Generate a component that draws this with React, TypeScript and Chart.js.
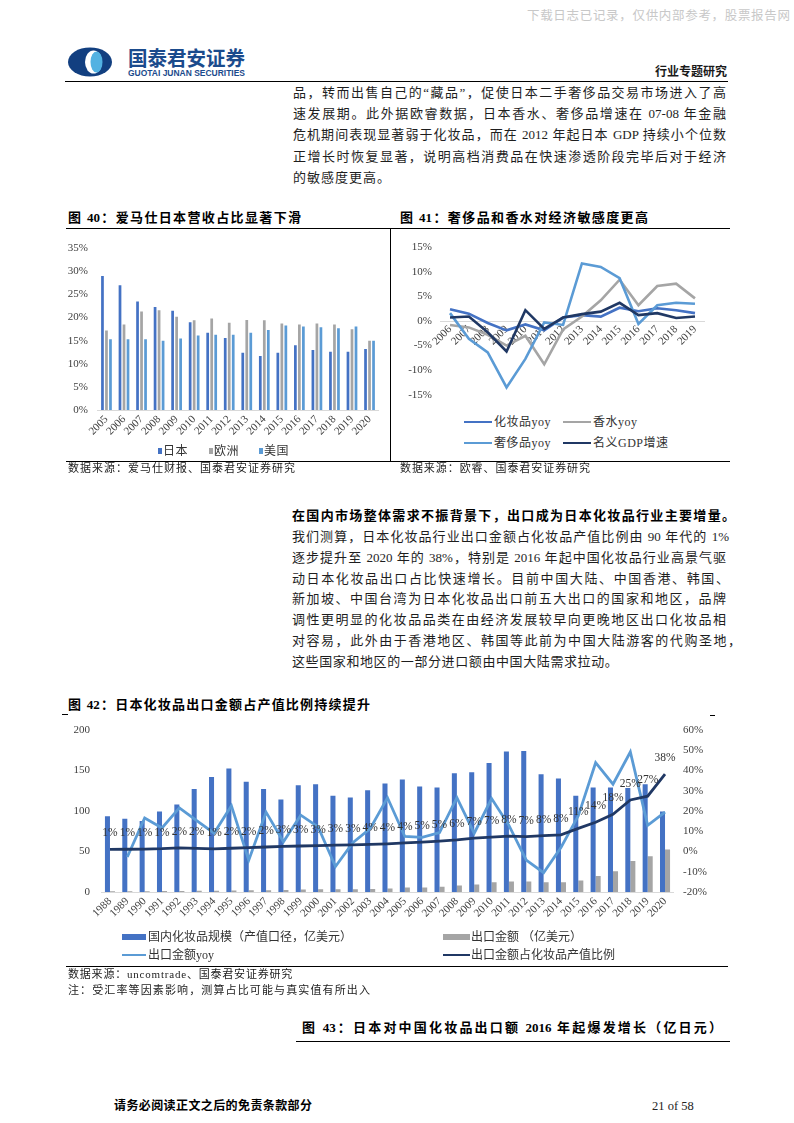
import React, { useEffect, useRef } from 'react';
import { Chart, registerables } from 'chart.js';

Chart.register(...registerables);

const SERIF = "'Liberation Serif', 'Noto Sans CJK SC', serif";
const TEXT = "'Liberation Serif', 'Noto Sans CJK SC', sans-serif";
const BLUE = '#4472C4';
const GRAY = '#A5A5A5';
const LIGHT = '#5B9BD5';
const NAVY = '#203864';
const TICK = '#404040';

// ---------- Figure 40: Hermès revenue share by region ----------
const hermesYears = ['2005', '2006', '2007', '2008', '2009', '2010', '2011', '2012', '2013', '2014', '2015', '2016', '2017', '2018', '2019', '2020'];
const hermesJapan = [29.0, 27.0, 23.5, 22.3, 21.5, 19.0, 16.7, 15.6, 12.4, 11.7, 12.4, 14.0, 13.0, 12.6, 12.6, 13.2];
const hermesEurope = [17.2, 18.5, 21.3, 21.6, 20.2, 19.4, 19.8, 18.9, 19.5, 19.4, 18.7, 18.5, 18.7, 18.5, 17.5, 15.0];
const hermesUS = [15.3, 15.3, 15.3, 15.0, 15.5, 16.1, 16.3, 16.3, 16.7, 17.3, 18.3, 18.1, 17.9, 17.7, 18.1, 15.0];
const hermesTicks = [0, 5, 10, 15, 20, 25, 30, 35];

// ---------- Figure 41: growth rates ----------
const yoyYears = ['2006', '2007', '2008', '2009', '2010', '2011', '2012', '2013', '2014', '2015', '2016', '2017', '2018', '2019'];
const cosmeticsYoy = [2.4, 1.5, -0.4, -1.9, -0.7, -1.9, 0.7, 1.2, 0.9, 2.7, 2.0, 2.6, 2.2, 1.6];
const perfumeYoy = [-0.8, -1.3, -2.8, -5.0, -3.0, -8.8, -1.7, 0.9, 4.2, 8.4, 3.2, 7.1, 7.6, 4.6];
const luxuryYoy = [1.6, -3.6, -6.4, -13.5, -7.7, -0.3, -0.8, 11.7, 11.0, 8.7, -0.6, 3.2, 3.7, 3.5];
const gdpGrowth = [0.7, 0.9, -2.3, -6.2, 2.2, -1.6, 0.7, 1.4, 1.9, 3.7, 1.2, 1.6, 0.6, 0.9];

// ---------- Figure 42: Japanese cosmetics exports ----------
const exportYears = ['1988', '1989', '1990', '1991', '1992', '1993', '1994', '1995', '1996', '1997', '1998', '1999', '2000', '2001', '2002', '2003', '2004', '2005', '2006', '2007', '2008', '2009', '2010', '2011', '2012', '2013', '2014', '2015', '2016', '2017', '2018', '2019', '2020'];
const domesticScale = [93.4, 90.3, 87.6, 99.2, 108, 127, 141.9, 152.3, 136, 127, 114, 131.8, 133, 118.6, 116.7, 125.6, 134, 138.8, 130.2, 129, 146.5, 147.7, 159.3, 173.3, 174, 145.3, 140, 118.6, 129, 129, 128.3, 133, 99.2];
const exportAmount = [0.8, 0.9, 1.0, 1.1, 1.3, 1.4, 1.5, 2.0, 2.2, 2.3, 2.4, 3.0, 3.4, 3.3, 3.5, 3.6, 4.3, 5.4, 5.4, 6.6, 8.1, 9.3, 12, 13, 13, 12, 12, 14.3, 19.8, 25.6, 38.4, 44, 52.3];
const exportYoy = [null, -2.7, 16.5, 11.6, 21.5, 15.2, 9.0, 22.6, -4.3, 19.4, 4.8, 17.9, 12.1, -7.4, 4.3, 11.3, 26.5, 7.4, 7.0, 9.3, 26.6, 9.0, 26.1, 12.9, -4.3, -10.5, 2.0, 17.6, 43.8, 33.2, 49.1, 12.9, 19.4];
const exportRatio = [1.0, 1.1, 1.2, 1.4, 1.8, 1.5, 1.3, 1.6, 1.9, 2.2, 2.5, 2.7, 2.9, 3.1, 3.3, 3.5, 3.8, 4.2, 4.6, 5.1, 5.7, 6.6, 7.1, 7.6, 7.3, 7.8, 8.2, 11.4, 14.4, 18.3, 25.4, 27.3, 38.2];

const tickFont = { family: SERIF, size: 11 };

function ChartBox({ left, top, width, height, build }: { left: number; top: number; width: number; height: number; build: () => any }) {
  const ref = useRef<HTMLCanvasElement>(null);
  useEffect(() => {
    const chart = new Chart(ref.current as HTMLCanvasElement, build());
    return () => chart.destroy();
  }, []);
  return <canvas ref={ref} width={width} height={height} style={{ position: 'absolute', left, top, width, height }} />;
}

const fig40 = () => ({
  type: 'bar',
  data: {
    labels: hermesYears,
    datasets: [
      { label: '日本', data: hermesJapan, backgroundColor: BLUE, categoryPercentage: 0.685, barPercentage: 0.68 },
      { label: '欧洲', data: hermesEurope, backgroundColor: GRAY, categoryPercentage: 0.685, barPercentage: 0.68 },
      { label: '美国', data: hermesUS, backgroundColor: LIGHT, categoryPercentage: 0.685, barPercentage: 0.68 },
    ],
  },
  options: {
    responsive: false,
    animation: false,
    events: [],
    layout: { padding: { top: 8, right: 11.7, left: 0, bottom: 0 } },
    plugins: { legend: { display: false }, tooltip: { enabled: false } },
    scales: {
      x: {
        grid: { display: false, drawTicks: false },
        border: { display: true, color: '#d9d9d9' },
        ticks: { autoSkip: false, minRotation: 45, maxRotation: 45, padding: 3, color: TICK, font: tickFont },
        afterFit: (s: any) => { s.height = 48; },
      },
      y: {
        min: hermesTicks[0],
        max: hermesTicks[hermesTicks.length - 1],
        grid: { display: false, drawTicks: false },
        border: { display: false },
        ticks: { stepSize: 5, padding: 9.7, color: TICK, font: tickFont, callback: (v: any) => v + '%' },
        afterFit: (s: any) => { s.width = 37.7; },
      },
    },
  },
});

const line41 = (label: string, data: number[], color: string, order: number) => ({
  label, data, borderColor: color, backgroundColor: color, borderWidth: 2.6, pointRadius: 0, tension: 0, order,
});

const fig41 = () => ({
  type: 'line',
  data: {
    labels: yoyYears,
    datasets: [
      line41('化妆品yoy', cosmeticsYoy, BLUE, 3),
      line41('香水yoy', perfumeYoy, GRAY, 2),
      line41('奢侈品yoy', luxuryYoy, LIGHT, 1),
      line41('名义GDP增速', gdpGrowth, NAVY, 0),
    ],
  },
  options: {
    responsive: false,
    animation: false,
    events: [],
    layout: { padding: { top: 14.7, right: 20.6, left: 0, bottom: 11 } },
    plugins: { legend: { display: false }, tooltip: { enabled: false } },
    scales: {
      x: {
        position: { y: 0 },
        offset: true,
        grid: { display: false, drawTicks: false },
        border: { display: true, color: '#d9d9d9' },
        ticks: { autoSkip: false, minRotation: 45, maxRotation: 45, padding: 2, color: TICK, font: tickFont },
        afterFit: (s: any) => { s.height = 0; },
      },
      y: {
        min: -15,
        max: 15,
        grid: { display: false, drawTicks: false },
        border: { display: false },
        ticks: { stepSize: 5, padding: 8.6, color: TICK, font: tickFont, callback: (v: any) => v + '%' },
        afterFit: (s: any) => { s.width = 45.6; },
      },
    },
  },
});

const ratioLabelPlugin = {
  id: 'ratioLabels',
  afterDatasetsDraw(chart: any) {
    const idx = chart.data.datasets.findIndex((d: any) => d.label === '出口金额占化妆品产值比例');
    const meta = chart.getDatasetMeta(idx);
    const ds = chart.data.datasets[idx];
    const ctx = chart.ctx;
    ctx.save();
    ctx.font = `11.5px ${SERIF}`;
    ctx.fillStyle = '#333333';
    ctx.textAlign = 'center';
    ctx.textBaseline = 'middle';
    meta.data.forEach((pt: any, i: number) => {
      const v = ds.data[i];
      if (v == null) return;
      ctx.fillText(Math.round(v) + '%', pt.x, pt.y - 16);
    });
    ctx.restore();
  },
};

const fig42 = () => ({
  type: 'bar',
  data: {
    labels: exportYears,
    datasets: [
      { type: 'line', label: '出口金额占化妆品产值比例', data: exportRatio, yAxisID: 'y1', borderColor: NAVY, backgroundColor: NAVY, borderWidth: 2.8, pointRadius: 0, tension: 0, order: 0 },
      { type: 'line', label: '出口金额yoy', data: exportYoy, yAxisID: 'y1', borderColor: LIGHT, backgroundColor: LIGHT, borderWidth: 2.8, pointRadius: 0, tension: 0, order: 1 },
      { type: 'bar', label: '国内化妆品规模（产值口径，亿美元）', data: domesticScale, yAxisID: 'y', backgroundColor: BLUE, categoryPercentage: 0.58, barPercentage: 1, order: 2 },
      { type: 'bar', label: '出口金额 （亿美元）', data: exportAmount, yAxisID: 'y', backgroundColor: GRAY, categoryPercentage: 0.58, barPercentage: 1, order: 3 },
    ],
  },
  options: {
    responsive: false,
    animation: false,
    events: [],
    layout: { padding: { top: 8.5, right: 0, left: 0, bottom: 0 } },
    plugins: { legend: { display: false }, tooltip: { enabled: false } },
    scales: {
      x: {
        grid: { display: false, drawTicks: false },
        border: { display: true, color: '#d9d9d9' },
        ticks: { autoSkip: false, minRotation: 45, maxRotation: 45, padding: 3, color: TICK, font: tickFont },
        afterFit: (s: any) => { s.height = 42; },
      },
      y: {
        position: 'left',
        min: 0,
        max: 200,
        grid: { display: false, drawTicks: false },
        border: { display: false },
        ticks: { stepSize: 50, padding: 11.3, color: TICK, font: tickFont },
        afterFit: (s: any) => { s.width = 41.3; },
      },
      y1: {
        position: 'right',
        min: -20,
        max: 60,
        grid: { display: false, drawTicks: false },
        border: { display: false },
        ticks: { stepSize: 10, padding: 9.3, color: TICK, font: tickFont, callback: (v: any) => v + '%' },
        afterFit: (s: any) => { s.width = 56.3; },
      },
    },
  },
  plugins: [ratioLabelPlugin],
});

type TProps = { x: number; y: number; w?: number; t: string; s?: number; b?: boolean; j?: boolean; c?: string; ls?: number; f?: string };
function T({ x, y, w, t, s = 13, b = false, j = false, c = '#1e1e1e', ls = 0, f }: TProps) {
  const lh = Math.round(s * 1.5);
  const style: any = {
    position: 'absolute', left: x, top: y - lh / 2, height: lh, lineHeight: lh + 'px', fontSize: s,
    fontWeight: b ? 700 : 400, fontFamily: f ?? TEXT, color: c, letterSpacing: ls,
    whiteSpace: j ? 'normal' : 'nowrap', overflow: 'visible',
  };
  if (w != null) style.width = w;
  if (j) { style.textAlign = 'justify'; style.textAlignLast = 'justify'; }
  return <div style={style}>{t}</div>;
}

function HLine({ x1, x2, y, c = '#000', h = 1 }: { x1: number; x2: number; y: number; c?: string; h?: number }) {
  return <div style={{ position: 'absolute', left: x1, top: y - h / 2, width: x2 - x1, height: h, background: c }} />;
}

function Box({ x, y, w, h, c }: { x: number; y: number; w: number; h: number; c: string }) {
  return <div style={{ position: 'absolute', left: x, top: y, width: w, height: h, background: c }} />;
}

const topPara = [
  '品，转而出售自己的“藏品”，促使日本二手奢侈品交易市场进入了高',
  '速发展期。此外据欧睿数据，日本香水、奢侈品增速在 07-08 年金融',
  '危机期间表现显著弱于化妆品，而在 2012 年起日本 GDP 持续小个位数',
  '正增长时恢复显著，说明高档消费品在快速渗透阶段完毕后对于经济',
];
const midPara = [
  '我们测算，日本化妆品行业出口金额占化妆品产值比例由 90 年代的 1%',
  '逐步提升至 2020 年的 38%，特别是 2016 年起中国化妆品行业高景气驱',
  '动日本化妆品出口占比快速增长。目前中国大陆、中国香港、韩国、',
  '新加坡、中国台湾为日本化妆品出口前五大出口的国家和地区，品牌',
  '调性更明显的化妆品品类在由经济发展较早向更晚地区出口化妆品相',
  '对容易，此外由于香港地区、韩国等此前为中国大陆游客的代购圣地，',
];
const midWidths = [437, 434, 437, 434, 434, 449];

export default function App() {
  return (
    <div style={{ position: 'absolute', left: 0, top: 0, width: 794, height: 1123, background: '#fff', overflow: 'hidden' }}>
      {/* watermark */}
      <T x={527} y={16} w={263} t="下载日志已记录，仅供内部参考，股票报告网" s={12.5} j c="#c8c8c8" />

      {/* header */}
      <svg style={{ position: 'absolute', left: 60, top: 38 }} width={250} height={45}>
        <ellipse cx={30} cy={24} rx={22} ry={14.5} fill="#123f80" />
        <ellipse cx={33.5} cy={24} rx={8.5} ry={11.5} fill="#ffffff" />
        <ellipse cx={36.5} cy={24} rx={6} ry={10.5} fill="#52b2e2" />
        <text x={68} y={27.5} fontSize={20} fontWeight={700} fill="#1b4b8c" textLength={117} lengthAdjust="spacingAndGlyphs" fontFamily="'Noto Sans CJK SC', sans-serif">国泰君安证券</text>
        <text x={68} y={37.5} fontSize={8.5} fontWeight={700} fill="#1b4b8c" textLength={117} lengthAdjust="spacingAndGlyphs" fontFamily="'Liberation Sans', sans-serif">GUOTAI JUNAN SECURITIES</text>
      </svg>
      <T x={655} y={72} w={72} t="行业专题研究" s={12} b j c="#1a1a1a" />
      <HLine x1={65} x2={728} y={81} />

      {/* top paragraph */}
      {topPara.map((line, i) => (
        <T key={'tp' + i} x={293} y={93 + i * 21.2} w={433} t={line} s={13} j />
      ))}
      <T x={293} y={93 + 4 * 21.2} t="的敏感度更高。" s={13} ls={1} />

      {/* figure 40 / 41 frame */}
      <T x={68} y={218} w={233} t="图 40：爱马仕日本营收占比显著下滑" s={13} b j c="#000" />
      <T x={400} y={218} w={248} t="图 41：奢侈品和香水对经济敏感度更高" s={13} b j c="#000" />
      <HLine x1={66} x2={730} y={228} />
      <div style={{ position: 'absolute', left: 389.5, top: 228, width: 1.5, height: 233, background: '#000' }} />
      <HLine x1={66} x2={730} y={461} />

      <ChartBox left={60} top={232} width={330} height={226} build={fig40} />
      {/* fig 40 legend */}
      <Box x={157.5} y={448} w={4} h={6} c={BLUE} />
      <T x={163} y={451} t="日本" s={12} ls={0.5} c="#333" />
      <Box x={208.5} y={448} w={4} h={6} c={GRAY} />
      <T x={214} y={451} t="欧洲" s={12} ls={0.5} c="#333" />
      <Box x={258.5} y={448} w={4} h={6} c={LIGHT} />
      <T x={264} y={451} t="美国" s={12} ls={0.5} c="#333" />

      <ChartBox left={395} top={232} width={330} height={178} build={fig41} />
      {/* fig 41 legend */}
      <Box x={464} y={420.7} w={28} h={2.6} c={BLUE} />
      <T x={494} y={422} t="化妆品yoy" s={12} ls={0.5} c="#333" />
      <Box x={563} y={420.7} w={28} h={2.6} c={GRAY} />
      <T x={593} y={422} t="香水yoy" s={12} ls={0.5} c="#333" />
      <Box x={464} y={441.7} w={28} h={2.6} c={LIGHT} />
      <T x={494} y={443} t="奢侈品yoy" s={12} ls={0.5} c="#333" />
      <Box x={563} y={441.7} w={28} h={2.6} c={NAVY} />
      <T x={593} y={443} t="名义GDP增速" s={12} ls={0.5} c="#333" />

      <T x={68} y={468} w={227} t="数据来源：爱马仕财报、国泰君安证券研究" s={11} j c="#222" />
      <T x={400} y={468} w={190} t="数据来源：欧睿、国泰君安证券研究" s={11} j c="#222" />

      {/* middle paragraph */}
      <T x={292} y={516} w={443} t="在国内市场整体需求不振背景下，出口成为日本化妆品行业主要增量。" s={13} b j c="#000" />
      {midPara.map((line, i) => (
        <T key={'mp' + i} x={292} y={537 + i * 20.8} w={midWidths[i]} t={line} s={13} j />
      ))}
      <T x={292} y={537 + 6 * 20.8} t="这些国家和地区的一部分进口额由中国大陆需求拉动。" s={13} ls={0.6} />

      {/* figure 42 */}
      <T x={68} y={705} w={302} t="图 42：日本化妆品出口金额占产值比例持续提升" s={13} b j c="#000" />
      <HLine x1={62} x2={68} y={714} />
      <HLine x1={710} x2={715} y={715} />
      <ChartBox left={60} top={712} width={670} height={222} build={fig42} />
      {/* fig 42 legend */}
      <Box x={122} y={934} w={24} h={6} c={BLUE} />
      <T x={148} y={937} t="国内化妆品规模（产值口径，亿美元）" s={12} c="#333" />
      <Box x={443} y={934} w={27} h={6} c={GRAY} />
      <T x={471} y={937} t="出口金额 （亿美元）" s={12} c="#333" />
      <Box x={122} y={953.7} w={24} h={2.6} c={LIGHT} />
      <T x={148} y={955} t="出口金额yoy" s={12} c="#333" />
      <Box x={443} y={953.7} w={27} h={2.6} c={NAVY} />
      <T x={471} y={955} t="出口金额占化妆品产值比例" s={12} c="#333" />
      <HLine x1={66} x2={728} y={966} />
      <T x={68} y={974} t="数据来源：uncomtrade、国泰君安证券研究" s={11} ls={0.8} c="#222" />
      <T x={68} y={990} w={302} t="注：受汇率等因素影响，测算占比可能与真实值有所出入" s={11} j c="#222" />

      {/* figure 43 title */}
      <T x={302} y={1028} w={420} t="图 43：日本对中国化妆品出口额 2016 年起爆发增长（亿日元）" s={13} b j c="#000" />
      <HLine x1={296} x2={730} y={1041} />

      {/* footer */}
      <T x={114} y={1106} w={198} t="请务必阅读正文之后的免责条款部分" s={12} b j c="#000" />
      <T x={652} y={1106} t="21 of 58" s={12.5} c="#222" f="'Liberation Serif', serif" />
    </div>
  );
}
